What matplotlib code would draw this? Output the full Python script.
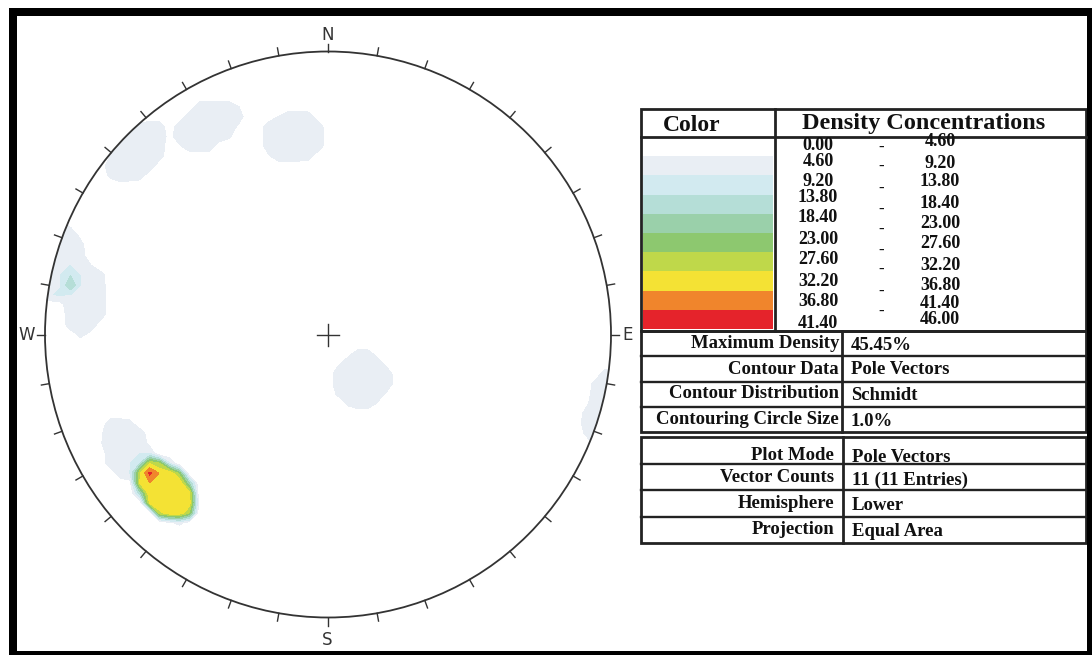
import numpy as np
import matplotlib.pyplot as plt
from matplotlib.patches import Circle, Rectangle

# pole vectors, lower hemisphere (degrees)
trend = [313.7, 330.3, 350.0, 284.7, 278.0, 143.2, 240.0, 226.0, 225.0, 227.0, 225.8]
plunge = [7.4, 15.5, 29.8, 2.0, 13.8, 73.7, 18.8, 21.5, 21.0, 20.8, 22.2]

levels = [0.0, 4.6, 9.2, 13.8, 18.4, 23.0, 27.6, 32.2, 36.8, 41.4, 46.0]
band_colors = ['#ffffff', '#e9eef4', '#d2eaf0', '#b5ded7', '#9ad0aa',
               '#8dc86f', '#bfd84a', '#f4e234', '#f0852c', '#e5232b']

info_labels = ['Maximum Density', 'Contour Data', 'Contour Distribution', 'Contouring Circle Size']
info_values = ['45.45%', 'Pole Vectors', 'Schmidt', '1.0%']
plot_labels = ['Plot Mode', 'Vector Counts', 'Hemisphere', 'Projection']
plot_values = ['Pole Vectors', '11 (11 Entries)', 'Lower', 'Equal Area']

SERIF = 'Liberation Serif'


def to_vec(t, p):
    t = np.radians(t)
    p = np.radians(p)
    return np.stack([np.cos(p) * np.sin(t), np.cos(p) * np.cos(t), -np.sin(p)], axis=-1)


# Schmidt counting (1% circle) on a coarse grid, axial so circles wrap across the primitive
g = np.arange(-1.085, 1.0851, 0.035)
gx, gy = np.meshgrid(g, g)
rr = np.minimum(np.hypot(gx, gy), 1.0)
gp = 90 - 2 * np.degrees(np.arcsin(rr / np.sqrt(2)))
gt = np.degrees(np.arctan2(gx, gy))
G = to_vec(gt, gp)
P = to_vec(np.array(trend), np.array(plunge))
ang = np.degrees(np.arccos(np.clip(np.abs(G @ P.T), 0, 1)))
cone = np.degrees(np.arccos(1 - 0.01))
k = np.clip((cone + 0.75 - ang) / 1.5, 0, 1)
dens = 100 * k.sum(axis=-1) / len(trend)

fig = plt.figure(figsize=(10.92, 6.55), dpi=100)
ax = fig.add_axes([0, 0, 1, 1])
ax.set_xlim(0, 1092)
ax.set_ylim(655, 0)
ax.axis('off')

# stereonet
cx, cy, R = 328, 334.5, 283
X = cx + R * gx
Y = cy - R * gy
cs = ax.contourf(X, Y, dens, levels=levels[1:], colors=band_colors[1:])
clip = Circle((cx, cy), R, transform=ax.transData, fc='none', ec='none')
ax.add_patch(clip)
cs.set_clip_path(clip)
ax.add_patch(Circle((cx, cy), R, fill=False, ec='#333333', lw=1.3))

for az in range(0, 360, 10):
    a = np.radians(az)
    ax.plot([cx + R * np.sin(a), cx + (R + 8) * np.sin(a)],
            [cy - R * np.cos(a), cy - (R + 8) * np.cos(a)], color='#333333', lw=1)
ax.plot([cx - 11, cx + 11], [cy, cy], color='#333333', lw=1)
ax.plot([cx, cx], [cy - 11, cy + 11], color='#333333', lw=1)

for lab, x, y in [('N', cx, 35), ('S', cx - 1, 640), ('W', 27, cy), ('E', 628, cy)]:
    ax.text(x, y, lab, ha='center', va='center', fontsize=12, color='#333333')

# legend table
tkw = dict(family=SERIF, weight='bold', color='#111111')
ax.add_patch(Rectangle((641, 109), 445, 222, fill=False, ec='#222222', lw=2))
ax.plot([641, 1086], [137, 137], color='#222222', lw=2)
ax.plot([775, 775], [109, 331], color='#222222', lw=2)
ax.text(692, 131, 'Color', ha='center', va='baseline', fontsize=17, **tkw)
ax.text(924, 129, 'Density Concentrations', ha='center', va='baseline', fontsize=17.5, **tkw)

row_h = (329 - 137) / 10
for i, c in enumerate(band_colors):
    ax.add_patch(Rectangle((643, 137 + i * row_h), 130, row_h, color=c, lw=0))

lo_y = [146, 162, 182, 198, 218, 239, 260, 281, 302, 324]
hi_y = [142, 164, 182, 203, 223, 243, 265, 285, 304, 319]
dash_y = [148, 167, 189, 210, 230, 251, 270, 292, 312]
for i in range(10):
    ax.text(818, lo_y[i], f'{levels[i]:.2f}', ha='center', va='center', fontsize=13, **tkw)
    ax.text(940, hi_y[i], f'{levels[i + 1]:.2f}', ha='center', va='center', fontsize=13, **tkw)
for y in dash_y:
    ax.text(881, y, '-', ha='center', va='center', fontsize=12, **tkw)


# info tables
def table(top, bottom, div, labels, values, lab_x, lab_y, val_y):
    ax.add_patch(Rectangle((641, top), 445, bottom - top, fill=False, ec='#222222', lw=2))
    n = len(labels)
    h = (bottom - top) / n
    for j in range(1, n):
        ax.plot([641, 1086], [top + j * h, top + j * h], color='#222222', lw=1.7)
    ax.plot([div, div], [top, bottom], color='#222222', lw=2)
    for j in range(n):
        ax.text(lab_x, lab_y[j], labels[j], ha='right', va='center', fontsize=13.5, **tkw)
        ax.text(div + 9, val_y[j], values[j], ha='left', va='center', fontsize=13.5, **tkw)


table(331, 432, 842, info_labels, info_values, 839, [343, 369, 393, 419], [345, 370, 396, 422])
table(437, 543, 843, plot_labels, plot_values, 834, [455, 478, 503, 529], [457, 480, 506, 531])

# outer frame
for x, y, w, h in [(9, 8, 8, 647), (9, 8, 1083, 8), (1087, 8, 5, 647), (9, 651, 1083, 4)]:
    ax.add_patch(Rectangle((x, y), w, h, color='black', lw=0))

fig.savefig('out.png', dpi=100)
